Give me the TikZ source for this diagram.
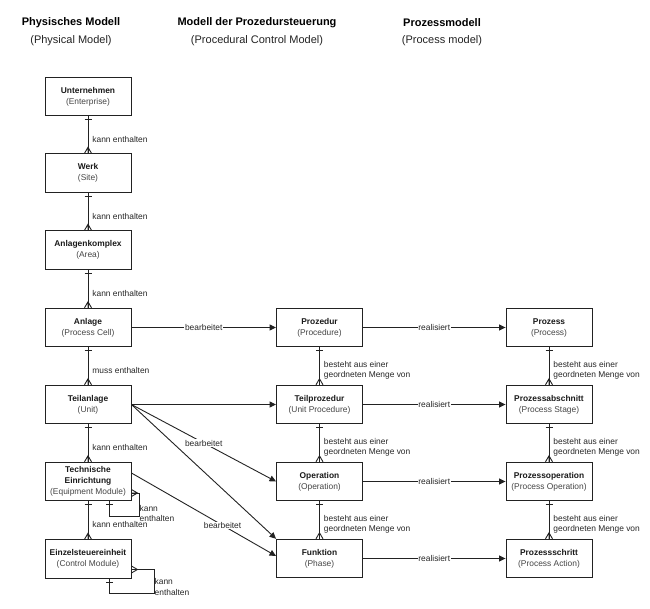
\documentclass[tikz,border=0pt]{standalone}
\usepackage{fontspec}
\setmainfont{Liberation Sans}
\usetikzlibrary{arrows.meta}
\definecolor{ln}{HTML}{222222}
\definecolor{pt}{HTML}{444444}
\tikzset{
 box/.style={draw=ln, line width=0.9pt, minimum width=86pt, minimum height=38.5pt, inner sep=0pt, align=center, font=\fontsize{8.4}{11}\selectfont, text=black!90},
 hdr/.style={font=\fontsize{11}{13}\selectfont, align=center, inner sep=0pt},
 conn/.style={draw=ln, line width=0.9pt},
 arr/.style={conn, -{Triangle[length=6.5pt,width=6pt]}},
 lbl/.style={font=\fontsize{8.4}{10.5}\selectfont, text=black!85, inner sep=0pt, align=left},
 onlbl/.style={font=\fontsize{8.4}{10.5}\selectfont, text=black!85, fill=white, inner sep=0.6pt},
}
\newcommand\boxtext[2]{{\bfseries #1}\\{\color{pt}#2}}
\newcommand\erone[1]{\draw[conn] ([xshift=-3.5pt,yshift=-3.5pt]#1.south) -- ([xshift=3.5pt,yshift=-3.5pt]#1.south);}
\newcommand\ermany[1]{\draw[conn] ([xshift=-3.5pt]#1.north) -- ([yshift=6pt]#1.north) -- ([xshift=3.5pt]#1.north) ([yshift=6pt]#1.north) -- (#1.north);}
\newcommand\vlink[3]{\draw[conn] (#1.south) -- node[lbl, anchor=west, xshift=4pt, yshift=-4.5pt]{#3} (#2.north); \erone{#1}\ermany{#2}}
\begin{document}
\begin{tikzpicture}[x=1pt,y=-1pt]
\useasboundingbox (0,0) rectangle (650,609);
% headers
\node[hdr] (h1a) at (71,23) {\bfseries Physisches Modell};
\node[hdr, text=ln] (h1b) at (71,41) {(Physical Model)};
\node[hdr] (h2a) at (257,23) {\bfseries Modell der Prozedursteuerung};
\node[hdr, text=ln] (h2b) at (257,41) {(Procedural Control Model)};
\node[hdr] (h3a) at (442,23) {\bfseries Prozessmodell};
\node[hdr, text=ln] (h3b) at (442,41) {(Process model)};
% physical
\node[box] (u) at (88,96.5) {\boxtext{Unternehmen}{(Enterprise)}};
\node[box] (w) at (88,173) {\boxtext{Werk}{(Site)}};
\node[box] (ak) at (88,250) {\boxtext{Anlagenkomplex}{(Area)}};
\node[box] (an) at (88,327.5) {\boxtext{Anlage}{(Process Cell)}};
\node[box] (ta) at (88,404.5) {\boxtext{Teilanlage}{(Unit)}};
\node[box] (te) at (88,481.5) {{\bfseries Technische}\\{\bfseries Einrichtung}\\{\color{pt}(Equipment Module)}};
\node[box] (zs) at (88,559) {\boxtext{Einzelsteuereinheit}{(Control Module)}};
% procedural
\node[box] (pd) at (319.5,327.5) {\boxtext{Prozedur}{(Procedure)}};
\node[box] (tp) at (319.5,404.5) {\boxtext{Teilprozedur}{(Unit Procedure)}};
\node[box] (op) at (319.5,481.5) {\boxtext{Operation}{(Operation)}};
\node[box] (fk) at (319.5,558.5) {\boxtext{Funktion}{(Phase)}};
% process
\node[box] (pz) at (549,327.5) {\boxtext{Prozess}{(Process)}};
\node[box] (pa) at (549,404.5) {\boxtext{Prozessabschnitt}{(Process Stage)}};
\node[box] (po) at (549,481.5) {\boxtext{Prozessoperation}{(Process Operation)}};
\node[box] (ps) at (549,558.5) {\boxtext{Prozessschritt}{(Process Action)}};
% vertical links
\vlink{u}{w}{kann enthalten}
\vlink{w}{ak}{kann enthalten}
\vlink{ak}{an}{kann enthalten}
\vlink{an}{ta}{muss enthalten}
\vlink{ta}{te}{kann enthalten}
\vlink{te}{zs}{kann enthalten}
\vlink{pd}{tp}{besteht aus einer\\geordneten Menge von}
\vlink{tp}{op}{besteht aus einer\\geordneten Menge von}
\vlink{op}{fk}{besteht aus einer\\geordneten Menge von}
\vlink{pz}{pa}{besteht aus einer\\geordneten Menge von}
\vlink{pa}{po}{besteht aus einer\\geordneten Menge von}
\vlink{po}{ps}{besteht aus einer\\geordneten Menge von}
% horizontal arrows
\draw[arr] (an.east) -- node[onlbl]{bearbeitet} (pd.west);
\draw[arr] (ta.east) -- (tp.west);
\draw[arr] (ta.east) -- node[onlbl]{bearbeitet} (op.west);
\draw[arr] (ta.east) -- (fk.north west);
\draw[arr] ([yshift=8.5pt]te.east) -- node[onlbl, pos=0.63]{bearbeitet} ([yshift=2.5pt]fk.west);
\draw[arr] (pd.east) -- node[onlbl]{realisiert} (pz.west);
\draw[arr] (tp.east) -- node[onlbl]{realisiert} (pa.west);
\draw[arr] (op.east) -- node[onlbl]{realisiert} (po.west);
\draw[arr] (fk.east) -- node[onlbl]{realisiert} (ps.west);
% self loops
\draw[conn] ([yshift=-11.5pt]te.east) -- ++(7.5,0) -- ++(0,23.5) -| ([xshift=21.5pt]te.south);
\draw[conn] ([yshift=-8pt]te.east) -- ([xshift=6pt,yshift=-11.5pt]te.east) -- ([yshift=-15pt]te.east)
  ([xshift=6pt,yshift=-11.5pt]te.east) -- ([yshift=-11.5pt]te.east);
\draw[conn] ([xshift=18pt,yshift=-3.5pt]te.south) -- ([xshift=25pt,yshift=-3.5pt]te.south);
\node[lbl, anchor=west] (tel) at (139.5,513.5) {kann\\enthalten};
\draw[conn] ([yshift=-10.5pt]zs.east) -- ++(23,0) -- ++(0,24) -| ([xshift=21.5pt]zs.south);
\draw[conn] ([yshift=-7pt]zs.east) -- ([xshift=6pt,yshift=-10.5pt]zs.east) -- ([yshift=-14pt]zs.east)
  ([xshift=6pt,yshift=-10.5pt]zs.east) -- ([yshift=-10.5pt]zs.east);
\draw[conn] ([xshift=18pt,yshift=-3.5pt]zs.south) -- ([xshift=25pt,yshift=-3.5pt]zs.south);
\node[lbl, anchor=west] (zsl) at (154.5,587) {kann\\enthalten};
\end{tikzpicture}
\end{document}
